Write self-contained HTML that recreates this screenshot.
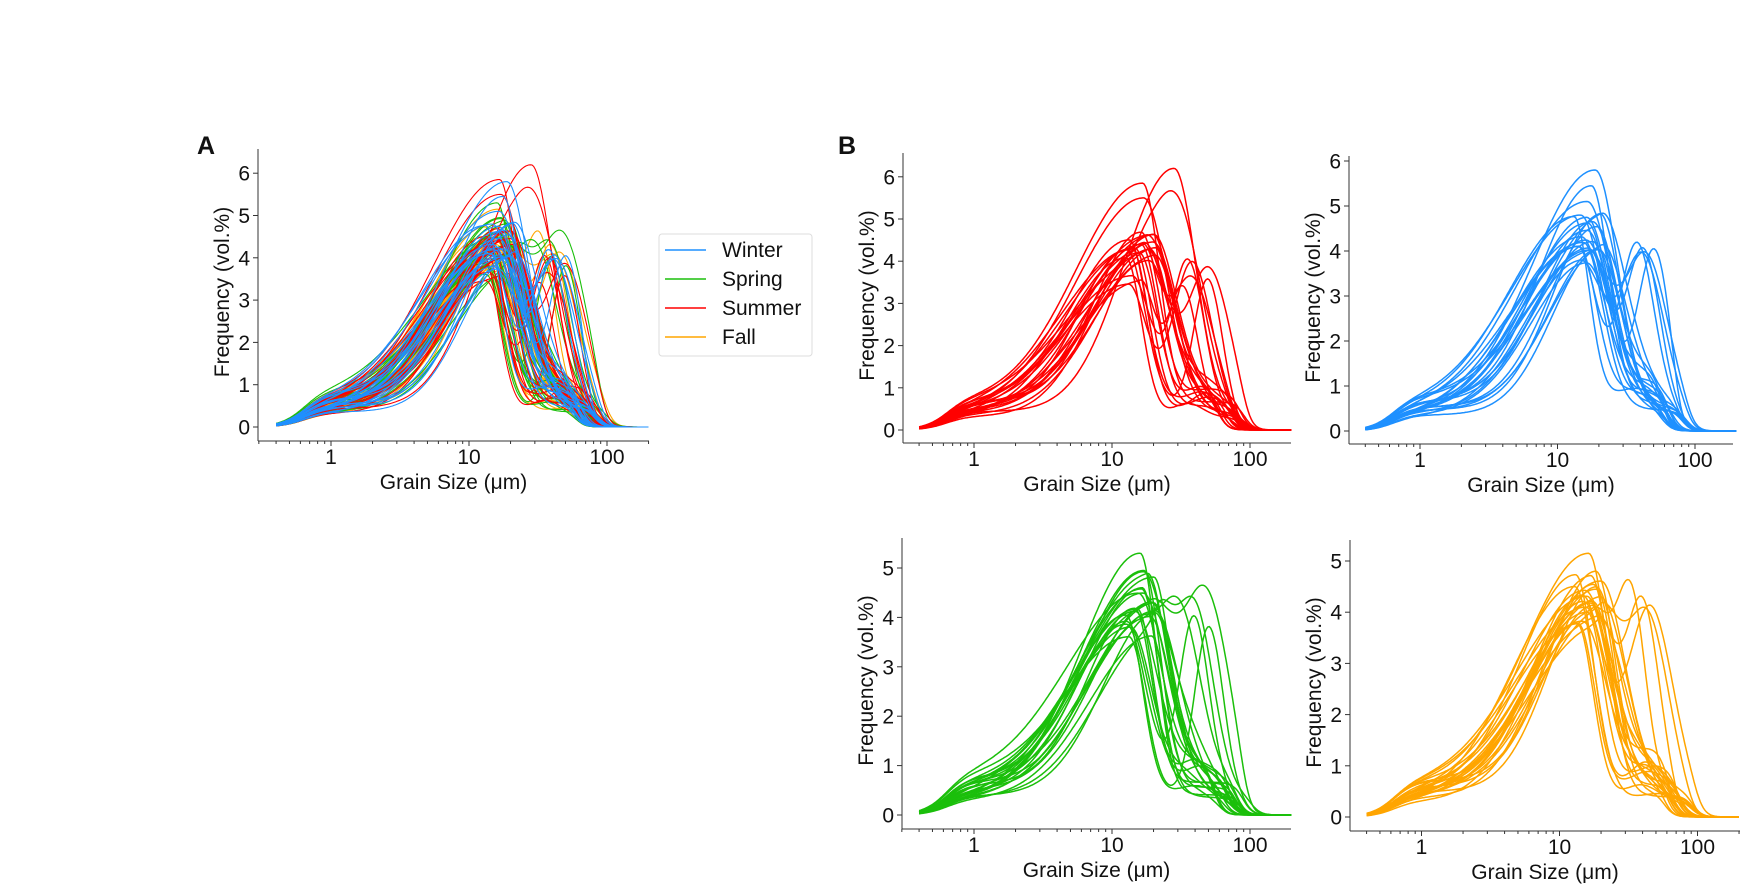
<!DOCTYPE html>
<html><head><meta charset="utf-8"><style>
html,body{margin:0;padding:0;background:#fff}
svg{display:block}
text{font-family:"Liberation Sans","DejaVu Sans",sans-serif;fill:#111}
</style></head><body>
<svg id="s" width="1749" height="888" xmlns="http://www.w3.org/2000/svg">
<text x="197" y="154" font-size="25" font-weight="bold">A</text>
<text x="838" y="154" font-size="25" font-weight="bold">B</text>
<g id="g"></g>
<rect x="659" y="234" width="153" height="122" rx="3" fill="#fff" stroke="#ddd"/>
<line x1="665" y1="250" x2="706" y2="250" stroke="#1e90ff" stroke-width="1.5"/>
<line x1="665" y1="279" x2="706" y2="279" stroke="#1bbf0b" stroke-width="1.5"/>
<line x1="665" y1="308" x2="706" y2="308" stroke="#ff0000" stroke-width="1.5"/>
<line x1="665" y1="337" x2="706" y2="337" stroke="#ffa500" stroke-width="1.5"/>
<text x="722" y="257" font-size="21">Winter</text>
<text x="722" y="286" font-size="21">Spring</text>
<text x="722" y="315" font-size="21">Summer</text>
<text x="722" y="344" font-size="21">Fall</text>
</svg>
<script>
(function(){
var G=document.getElementById('g'),out='';
var seed=12345;function R(){seed=(seed*1103515245+12345)%2147483648;return seed/2147483648;}
function rr(a,b){return a+(b-a)*R();}
var COL={w:"#1e90ff",s:"#1bbf0b",r:"#ff0000",f:"#ffa500"};
var MAXP={w:5.8,s:5.3,r:6.2,f:5.15};
function gen(season,n){
  var arr=[];
  for(var i=0;i<n;i++){
    var bi=R()<0.25;
    var p=rr(0.3,0.75);
    var c={m:rr(1.1,1.32),A:bi?rr(3.0,3.8):rr(3.3,4.3),sl:rr(0.33,0.52),sr:rr(0.11,0.19),
      B:bi?rr(3.0,3.9):rr(0,0.6),m2:rr(1.5,1.72),s2:rr(0.1,0.16),
      c:bi?rr(1.86,2.02):rr(1.75,1.98),p:p};
    if(i<3){c.A=MAXP[season]-p-i*0.35;c.B=0;c.m=(season=='r'&&i==0)?1.45:rr(1.2,1.3);}
    arr.push(c);
  }
  return arr;
}
function f(c,u){
  var d=u-c.m, s=d<0?c.sl:c.sr;
  var main=c.A*Math.exp(-0.5*d*d/(s*s));
  var d2=u-c.m2, sec=c.B*Math.exp(-0.5*d2*d2/(c.s2*c.s2));
  var pl=c.p/(1+Math.exp(-(u+0.2)/0.08));
  var cut=1/(1+Math.exp((u-c.c)/0.035));
  return (pl+main+sec)*cut;
}
var data={};
['w','s','r','f'].forEach(function(k){data[k]=gen(k,26);});
function axes(P){
  var X=function(x){return P.x1+P.dec*Math.log(x)/Math.LN10;};
  var Y=function(v){return P.y0-P.unit*v;};
  var s='';
  s+='<line x1="'+P.ax+'" y1="'+P.top+'" x2="'+P.ax+'" y2="'+P.xa+'" stroke="#333" stroke-width="1"/>';
  s+='<line x1="'+P.ax+'" y1="'+P.xa+'" x2="'+P.xe+'" y2="'+P.xa+'" stroke="#333" stroke-width="1"/>';
  for(var e=-1;e<=2;e++)for(var m=1;m<10;m++){var x=m*Math.pow(10,e);var px=X(x);
    if(px<P.ax-0.5||px>P.xe+0.5)continue;
    var L=m==1?5:3;s+='<line x1="'+px+'" y1="'+P.xa+'" x2="'+px+'" y2="'+(P.xa+L)+'" stroke="#333" stroke-width="1"/>';
    if(m==1&&e>=0)s+='<text x="'+px+'" y="'+(P.xa+23)+'" font-size="21" text-anchor="middle">'+x+'</text>';}
  for(var v=0;v<=P.ym;v++){var py=Y(v);
    s+='<line x1="'+(P.ax-5)+'" y1="'+py+'" x2="'+P.ax+'" y2="'+py+'" stroke="#333"/>';
    s+='<text x="'+(P.ax-8)+'" y="'+(py+7.5)+'" font-size="21" text-anchor="end">'+v+'</text>';}
  s+='<text x="'+((P.ax+P.xe)/2)+'" y="'+(P.xa+48)+'" font-size="21" text-anchor="middle">Grain Size (μm)</text>';
  var cy=(P.y0+P.top)/2+4;
  s+='<text transform="translate('+(P.ax-29)+','+cy+') rotate(-90)" font-size="21" text-anchor="middle">Frequency (vol.%)</text>';
  var curves='';
  P.ser.forEach(function(k){
    data[k].forEach(function(c){
      var d='';for(var i=0;i<=240;i++){var u=Math.log(0.4)/Math.LN10+i*(Math.log(200/0.4)/Math.LN10)/240;
        var v=f(c,u);var px=P.x1+P.dec*u,py=Y(v);d+=(i?'L':'M')+px.toFixed(1)+' '+py.toFixed(1);}
      curves+='<path d="'+d+'" fill="none" stroke="'+COL[k]+'" stroke-width="'+P.lw+'"/>';
    });
  });
  return curves+s;
}
out+=axes({ax:258,xe:649,xa:441,top:149,y0:427,unit:42.3,ym:6,x1:331,dec:138,ser:['f','s','r','w'],lw:1.1});
out+=axes({ax:903,xe:1291,xa:443,top:153,y0:430,unit:42.2,ym:6,x1:974,dec:138,ser:['r'],lw:1.5});
out+=axes({ax:1349,xe:1733,xa:444,top:156,y0:431,unit:45,ym:6,x1:1420,dec:137.5,ser:['w'],lw:1.5});
out+=axes({ax:902,xe:1291,xa:829,top:538,y0:815,unit:49.4,ym:5,x1:974,dec:138,ser:['s'],lw:1.5});
out+=axes({ax:1350,xe:1740,xa:831,top:540,y0:817,unit:51.2,ym:5,x1:1421.5,dec:138,ser:['f'],lw:1.5});
G.innerHTML=out;
})();
</script>
</body></html>
